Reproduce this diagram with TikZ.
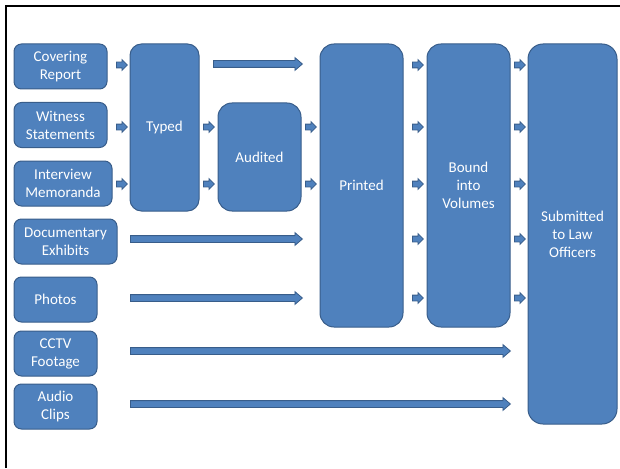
\documentclass[tikz,border=0pt]{standalone}
\usepackage{fontspec}
\setmainfont{Carlito}
\usetikzlibrary{shapes.arrows}
\definecolor{boxfill}{HTML}{4F81BD}
\definecolor{boxline}{HTML}{385D8A}
\begin{document}
\begin{tikzpicture}[x=1pt,y=-1pt,
  box/.style={draw=boxline, fill=boxfill, line width=1pt, text=white, align=center,
    font=\fontsize{15}{18}\selectfont, inner sep=0pt},
  sarrow/.style={single arrow, draw=boxline, fill=boxfill, line width=0.8pt,
    minimum height=11pt, single arrow head extend=2.5pt,
    inner xsep=0pt, inner ysep=2.5pt, anchor=tail},
  larrow/.style={single arrow, draw=boxline, fill=boxfill, line width=0.8pt,
    minimum height=#1, single arrow head extend=3pt,
    single arrow tip angle=81, inner xsep=0pt, inner ysep=3pt, anchor=tail}]
\useasboundingbox (0,0) rectangle (620,468);
\draw[line width=2pt] (6,468) -- (6,6) -- (620,6);

% source boxes
\node[box, rounded corners=7.5pt, minimum width=93pt, minimum height=45pt] (cov) at (60.5,66.5) {Covering\\Report};
\node[box, rounded corners=7.5pt, minimum width=93pt, minimum height=45pt] (wit) at (60.5,125) {Witness\\Statements};
\node[box, rounded corners=7.5pt, minimum width=98pt, minimum height=45pt] (int) at (63,183.5) {Interview\\Memoranda};
\node[box, rounded corners=7.5pt, minimum width=103pt, minimum height=45pt] (doc) at (65.5,241.5) {Documentary\\Exhibits};
\node[box, rounded corners=7.5pt, minimum width=83pt, minimum height=45pt] (pho) at (55.5,299.5) {Photos};
\node[box, rounded corners=7.5pt, minimum width=83pt, minimum height=45pt] (cctv) at (55.5,353.5) {CCTV\\Footage};
\node[box, rounded corners=7.5pt, minimum width=83pt, minimum height=45pt] (aud) at (55.5,406.5) {Audio\\Clips};

% process boxes
\node[box, rounded corners=11.5pt, minimum width=69pt, minimum height=167pt] (typed) at (164.5,127.5) {Typed};
\node[box, rounded corners=14pt, minimum width=83pt, minimum height=108pt] (audited) at (259.5,157) {Audited};
\node[box, rounded corners=14pt, minimum width=83pt, minimum height=283pt] (printed) at (361.5,185.5) {Printed};
\node[box, rounded corners=14pt, minimum width=83pt, minimum height=283pt] (bound) at (468.5,185.5) {Bound\\into\\Volumes};
\node[box, rounded corners=15pt, minimum width=89pt, minimum height=380pt] (sub) at (572.5,234) {Submitted\\to Law\\Officers};

% small arrows into Typed
\foreach \y/\n in {65/a1,127/a2,184/a3} \node[sarrow] (\n) at (116,\y) {};
% Typed -> Audited
\foreach \y/\n in {127/b1,184/b2} \node[sarrow] (\n) at (203,\y) {};
% Audited -> Printed
\foreach \y/\n in {127/c1,184/c2} \node[sarrow] (\n) at (305,\y) {};
% Printed -> Bound
\foreach \y/\n in {65/d1,127/d2,184/d3,239/d4,298/d5} \node[sarrow] (\n) at (412,\y) {};
% Bound -> Submitted
\foreach \y/\n in {65/e1,127/e2,184/e3,239/e4,298/e5} \node[sarrow] (\n) at (514,\y) {};

% long arrows
\node[larrow=89pt] (l1) at (213,64) {};
\node[larrow=172pt] (l2) at (130,239) {};
\node[larrow=172pt] (l3) at (130,298) {};
\node[larrow=380pt] (l4) at (130,351) {};
\node[larrow=380pt] (l5) at (130,404) {};
\end{tikzpicture}
\end{document}
